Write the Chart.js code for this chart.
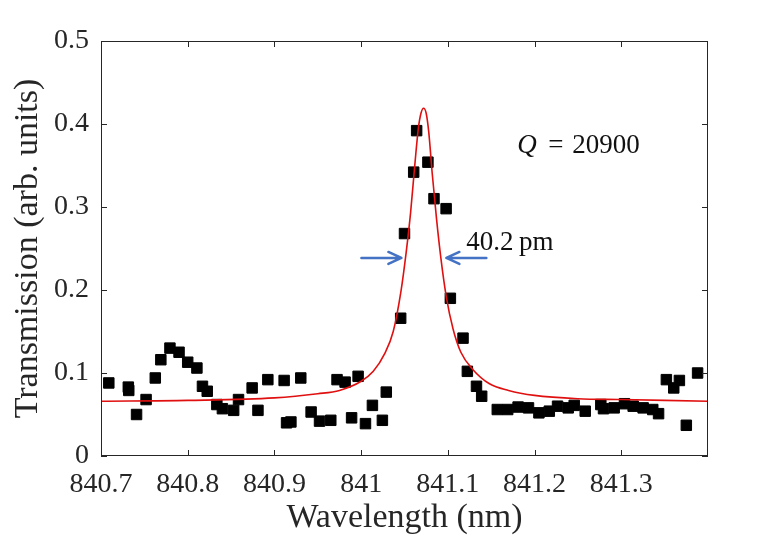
<!DOCTYPE html>
<html>
<head>
<meta charset="utf-8">
<script src="https://cdn.jsdelivr.net/npm/chart.js@4.4.1/dist/chart.umd.min.js"></script>
<style>
  html, body { margin: 0; padding: 0; background: #fff; }
  #wrap { width: 780px; height: 540px; }
</style>
</head>
<body>
<div id="wrap"><canvas id="myChart" width="780" height="540"></canvas></div>
<script>
// measured transmission (black squares)
const measuredWavelength = [
  840.709, 840.7315, 840.732, 840.741, 840.752, 840.7626, 840.769, 840.7795, 840.790, 840.800,
  840.8106, 840.817, 840.8225, 840.8336, 840.840, 840.853, 840.8586, 840.8743, 840.881, 840.8924,
  840.9112, 840.914, 840.919, 840.9304, 840.9423, 840.952, 840.965, 840.9722, 840.9815, 840.989,
  840.9965, 841.005, 841.013, 841.0245, 841.029, 841.0456, 841.050, 841.0606, 841.064, 841.077,
  841.084, 841.098, 841.1029, 841.1175, 841.1225, 841.133, 841.139, 841.157, 841.169, 841.181,
  841.193, 841.205, 841.217, 841.2265, 841.2388, 841.2457, 841.2584, 841.2764, 841.2795, 841.2918,
  841.3037, 841.3137, 841.3252, 841.3363, 841.343, 841.352, 841.3605, 841.367, 841.375, 841.388
];
const measuredTransmission = [
  0.088, 0.083, 0.079, 0.050, 0.068, 0.094, 0.116, 0.130, 0.125, 0.113,
  0.106, 0.084, 0.078, 0.062, 0.057, 0.055, 0.068, 0.082, 0.055, 0.092,
  0.091, 0.040, 0.041, 0.094, 0.053, 0.042, 0.043, 0.092, 0.089, 0.046,
  0.096, 0.039, 0.061, 0.043, 0.077, 0.166, 0.268, 0.342, 0.392, 0.354,
  0.310, 0.298, 0.190, 0.142, 0.102, 0.084, 0.072, 0.056, 0.056, 0.059,
  0.058, 0.052, 0.054, 0.060, 0.058, 0.061, 0.054, 0.062, 0.057, 0.058,
  0.063, 0.060, 0.058, 0.056, 0.051, 0.092, 0.082, 0.091, 0.037, 0.100
];

// fitted curve (red)
const fitWavelength = [
  840.70, 840.80, 840.90, 840.95, 840.975, 841.00, 841.014, 841.027, 841.037, 841.046,
  841.052, 841.057, 841.062, 841.066, 841.069, 841.072, 841.075, 841.078, 841.082, 841.087,
  841.092, 841.098, 841.106, 841.115, 841.129, 841.148, 841.17, 841.20, 841.25, 841.30, 841.40
];
const fitTransmission = [
  0.066, 0.067, 0.070, 0.075, 0.079, 0.090, 0.102, 0.123, 0.150, 0.199,
  0.246, 0.293, 0.352, 0.395, 0.413, 0.419, 0.413, 0.390, 0.340, 0.285,
  0.238, 0.193, 0.153, 0.125, 0.104, 0.087, 0.079, 0.073, 0.069, 0.068, 0.066
];

const xTickValues = [840.7, 840.8, 840.9, 841, 841.1, 841.2, 841.3];
const xTickLabels = ['840.7', '840.8', '840.9', '841', '841.1', '841.2', '841.3'];
const yTickValues = [0, 0.1, 0.2, 0.3, 0.4, 0.5];
const yTickLabels = ['0', '0.1', '0.2', '0.3', '0.4', '0.5'];

const serif = '"Liberation Serif", "Times New Roman", serif';
const axisColor = '#262626';

const points = measuredWavelength.map((x, i) => ({ x: x, y: measuredTransmission[i] }));
const fit = fitWavelength.map((x, i) => ({ x: x, y: fitTransmission[i] }));

// box + inward ticks on all four sides, matlab style
const framePlugin = {
  id: 'frame',
  afterDatasetsDraw(chart) {
    const { ctx, chartArea: a, scales } = chart;
    const len = 6;
    ctx.save();
    ctx.strokeStyle = axisColor;
    ctx.lineWidth = 1;
    ctx.strokeRect(a.left + 0.5, a.top + 0.5, a.right - a.left - 1, a.bottom - a.top - 1);
    ctx.beginPath();
    xTickValues.forEach(v => {
      const px = Math.round(scales.x.getPixelForValue(v)) + 0.5;
      ctx.moveTo(px, a.bottom); ctx.lineTo(px, a.bottom - len);
      ctx.moveTo(px, a.top); ctx.lineTo(px, a.top + len);
    });
    yTickValues.forEach(v => {
      const py = Math.round(scales.y.getPixelForValue(v)) + 0.5;
      ctx.moveTo(a.left, py); ctx.lineTo(a.left + len, py);
      ctx.moveTo(a.right, py); ctx.lineTo(a.right - len, py);
    });
    ctx.stroke();
    ctx.restore();
  },
  afterDraw(chart) {
    const { ctx, scales } = chart;
    const X = v => scales.x.getPixelForValue(v);
    const Y = v => scales.y.getPixelForValue(v);
    ctx.save();
    ctx.fillStyle = '#111';
    ctx.textBaseline = 'alphabetic';
    ctx.textAlign = 'left';

    // Q = 20900
    let qx = X(841.18), qy = Y(0.365);
    ctx.font = 'italic 27px ' + serif;
    ctx.fillText('Q', qx, qy);
    ctx.font = '27px ' + serif;
    ctx.fillText('=', qx + 31, qy);
    ctx.fillText('20900', qx + 55, qy);

    // linewidth label
    ctx.font = '27px ' + serif;
    ctx.fillText('40.2\u2009pm', X(841.1213), Y(0.248));

    // FWHM arrows
    const ay = Y(0.2386);
    const arrow = (x0, x1) => {
      const dir = Math.sign(x1 - x0);
      ctx.beginPath();
      ctx.moveTo(x0, ay); ctx.lineTo(x1, ay);
      ctx.moveTo(x1 - dir * 13, ay - 6); ctx.lineTo(x1, ay); ctx.lineTo(x1 - dir * 13, ay + 6);
      ctx.stroke();
    };
    ctx.strokeStyle = '#4472c4';
    ctx.lineWidth = 2.5;
    ctx.lineCap = 'round';
    ctx.lineJoin = 'round';
    arrow(X(841.0003), X(841.0464));
    arrow(X(841.1444), X(841.0983));
    ctx.restore();
  }
};

const config = {
  type: 'scatter',
  data: {
    datasets: [
      {
        label: 'fit',
        data: fit,
        showLine: true,
        borderColor: '#e01010',
        borderWidth: 1.6,
        pointRadius: 0,
        cubicInterpolationMode: 'monotone',
        order: 0
      },
      {
        label: 'measured',
        data: points,
        pointStyle: 'rect',
        pointRadius: 7.4,
        backgroundColor: '#000',
        borderColor: '#000',
        borderWidth: 1,
        order: 1
      }
    ]
  },
  options: {
    responsive: false,
    animation: false,
    layout: { padding: { left: 0, right: 72, top: 41, bottom: 0 } },
    plugins: { legend: { display: false }, tooltip: { enabled: false } },
    scales: {
      x: {
        type: 'linear',
        min: 840.7,
        max: 841.4,
        afterBuildTicks: s => { s.ticks = xTickValues.map(v => ({ value: v })); },
        afterFit: s => { s.height = 84; },
        ticks: {
          callback: (v, i) => xTickLabels[i],
          font: { family: serif, size: 28 },
          color: axisColor,
          padding: 4,
          maxRotation: 0,
          autoSkip: false
        },
        grid: { display: false },
        border: { display: false },
        title: {
          display: true,
          text: 'Wavelength (nm)',
          font: { family: serif, size: 34 },
          color: axisColor,
          padding: { top: 0, bottom: 2 }
        }
      },
      y: {
        type: 'linear',
        min: 0,
        max: 0.5,
        afterBuildTicks: s => { s.ticks = yTickValues.map(v => ({ value: v })); },
        afterFit: s => { s.width = 101; },
        ticks: {
          callback: (v, i) => yTickLabels[i],
          font: { family: serif, size: 28 },
          color: axisColor,
          padding: 4,
          autoSkip: false
        },
        grid: { display: false },
        border: { display: false },
        title: {
          display: true,
          text: 'Transmission (arb. units)',
          font: { family: serif, size: 34 },
          color: axisColor,
          padding: { top: 8, bottom: 0 }
        }
      }
    }
  },
  plugins: [framePlugin]
};

new Chart(document.getElementById('myChart'), config);
</script>
</body>
</html>
